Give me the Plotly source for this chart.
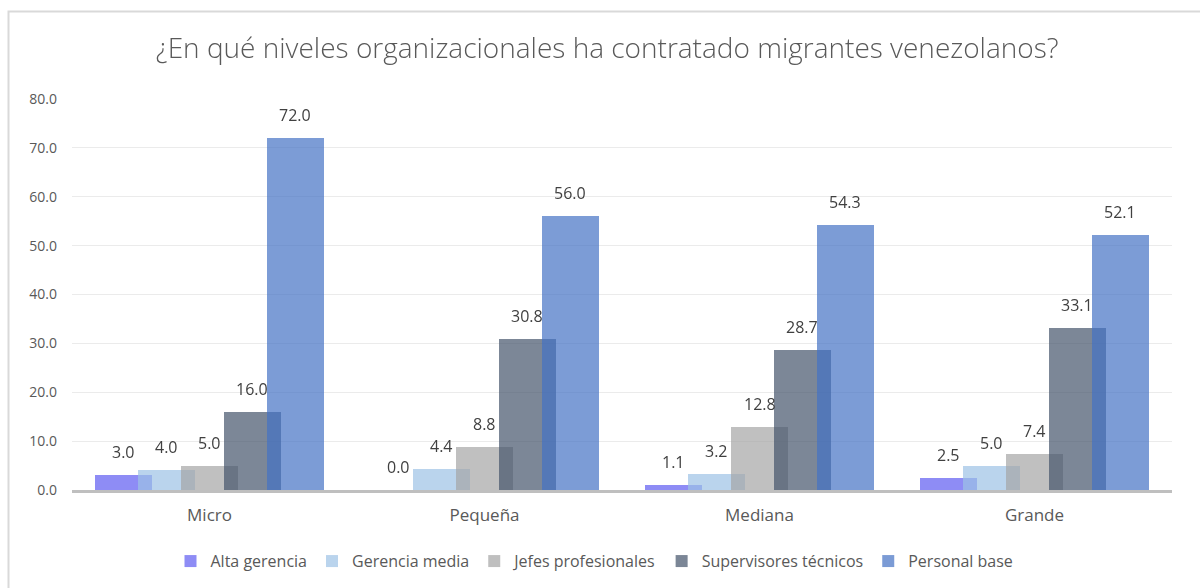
import plotly.graph_objects as go

categories = ["Micro", "Pequeña", "Mediana", "Grande"]
series_names = ["Alta gerencia", "Gerencia media", "Jefes profesionales",
                "Supervisores técnicos", "Personal base"]
alta_gerencia = [3.0, 0.0, 1.1, 2.5]
gerencia_media = [4.0, 4.4, 3.2, 5.0]
jefes_profesionales = [5.0, 8.8, 12.8, 7.4]
supervisores_tecnicos = [16.0, 30.8, 28.7, 33.1]
personal_base = [72.0, 56.0, 54.3, 52.1]
y_ticks = [0, 10, 20, 30, 40, 50, 60, 70, 80]

values = [alta_gerencia, gerencia_media, jefes_profesionales,
          supervisores_tecnicos, personal_base]
colors = ["#5F5CF2", "#9DC3E6", "#A5A5A5", "#44546A", "#4472C4"]

bar_w = 0.207
step = 0.156
cat_px = 275
FONT = "Open Sans"

fig = go.Figure()
annotations = []
for i, (name, vals, col) in enumerate(zip(series_names, values, colors)):
    center = (i - 2) * step
    fig.add_trace(go.Bar(
        x=categories, y=vals, name=name,
        marker=dict(color=col, line=dict(width=0)),
        opacity=0.7,
        width=bar_w, offset=center - bar_w / 2,
        cliponaxis=False,
    ))
    for c, v in zip(categories, vals):
        annotations.append(dict(
            x=c, y=v, xref="x", yref="y", text=f"{v:.1f}", showarrow=False,
            xanchor="center", yanchor="bottom", xshift=center * cat_px, yshift=10,
            font=dict(family=FONT, size=16, color="#404040"),
        ))

fig.update_layout(
    width=1200, height=588,
    barmode="overlay",
    paper_bgcolor="white", plot_bgcolor="white",
    margin=dict(l=72, r=28, t=99, b=98, autoexpand=False),
    title=dict(text="¿En qué niveles organizacionales ha contratado migrantes venezolanos?",
               x=0.506, xanchor="center", y=0.918, yanchor="middle",
               font=dict(family=FONT, size=28, color="#595959", weight=300)),
    font=dict(family=FONT, color="#595959"),
    xaxis=dict(showgrid=False, showline=True, linecolor="#BFBFBF", linewidth=2.5,
               tickfont=dict(size=17, color="#595959"), ticks="",
               ticklabelstandoff=8, range=[-0.5, 3.5]),
    yaxis=dict(range=[0, 80], tickvals=y_ticks, tickformat=".1f",
               showgrid=True, gridcolor="#EBEBEB", gridwidth=1,
               zeroline=False, showline=False,
               tickfont=dict(size=14, color="#595959"), ticklabelstandoff=14),
    legend=dict(orientation="h", x=0.475, xanchor="center", y=-0.182, yanchor="middle",
                font=dict(size=16, color="#595959"), itemwidth=30,
                traceorder="normal"),
    bargap=0,
    annotations=annotations,
)

fig.add_shape(type="rect", xref="paper", yref="paper",
              x0=(8.5 - 72) / 1100, x1=(1210 - 72) / 1100,
              y0=(490 - 600) / 391, y1=(490 - 11.5) / 391,
              line=dict(color="#D9D9D9", width=2), fillcolor="rgba(0,0,0,0)",
              layer="below")

fig.write_html("out.html", config={"displayModeBar": False},
               post_script="document.body.style.margin='0px';")
